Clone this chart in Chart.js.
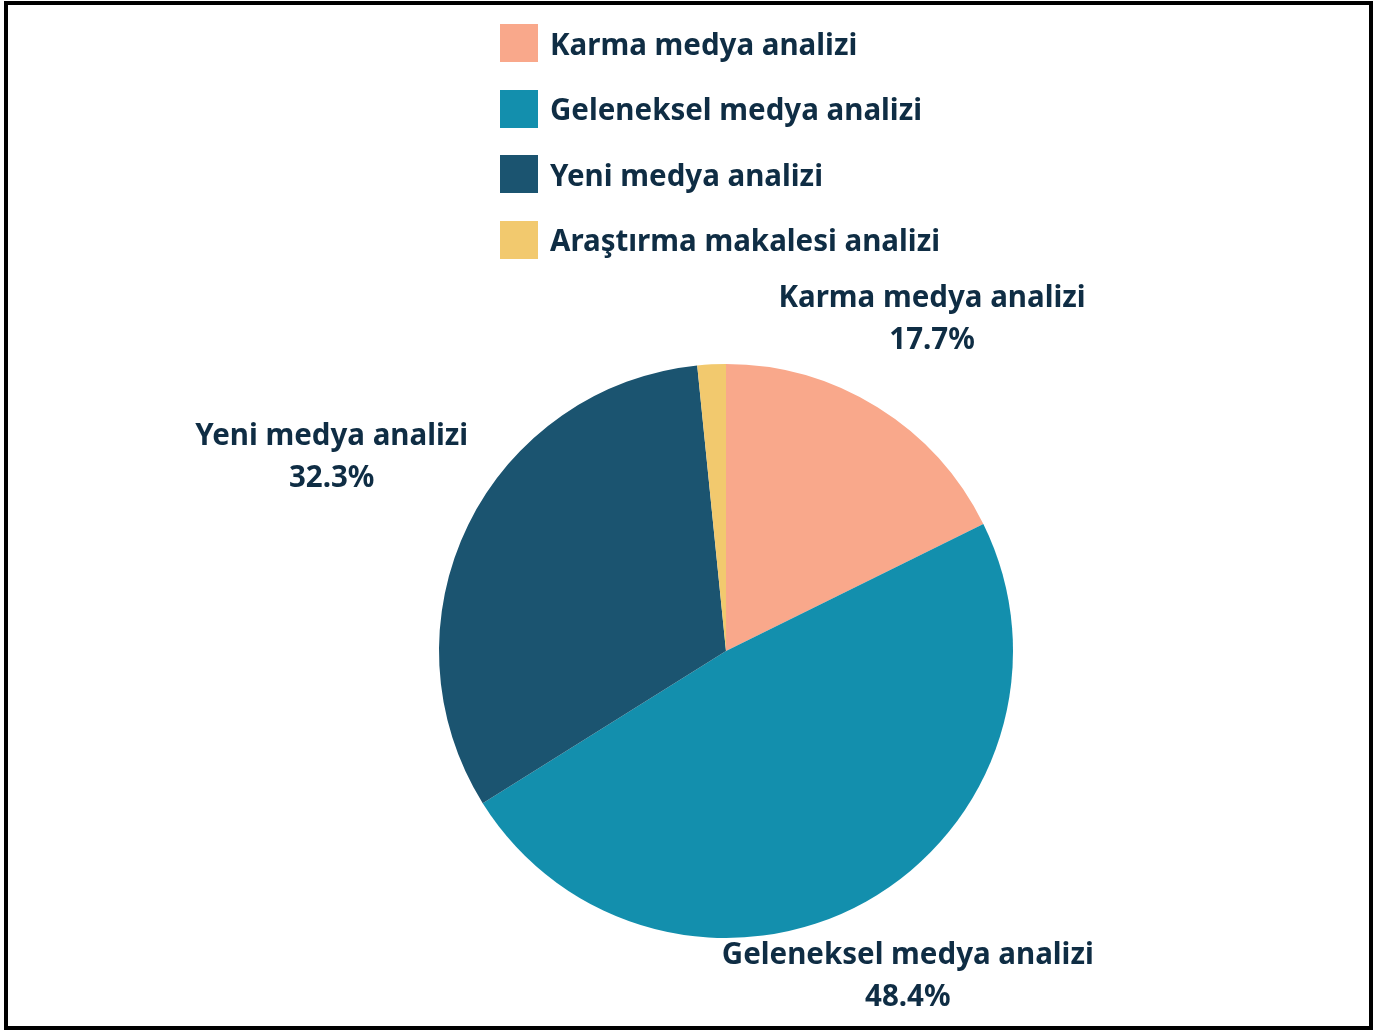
<!DOCTYPE html>
<html>
<head>
<meta charset="utf-8">
<script src="https://cdn.jsdelivr.net/npm/chart.js@4/dist/chart.umd.min.js"></script>
<style>
  html, body { margin: 0; padding: 0; background: #fff; }
  #wrap { position: relative; width: 1385px; height: 1032px; overflow: hidden; }
  #frame {
    position: absolute; left: 4px; top: 1px; width: 1361px; height: 1021px;
    border: 4px solid #000; pointer-events: none;
  }
  #pie { position: absolute; left: 0; top: 0; }
  #legend {
    position: absolute; left: 500px; top: 24px;
    font-family: "Noto Sans", sans-serif; font-weight: bold; font-size: 29.5px; color: #0f2d44;
  }
  .item { display: flex; align-items: center; height: 38px; margin-bottom: 27.5px; }
  .box { width: 38px; height: 38px; margin-right: 12px; }
</style>
</head>
<body>
<div id="wrap">
  <canvas id="pie" width="1385" height="1032"></canvas>
  <div id="legend"></div>
  <div id="frame"></div>
</div>
<script>
const categories = ['Karma medya analizi', 'Geleneksel medya analizi', 'Yeni medya analizi', 'Araştırma makalesi analizi'];
const shares = [17.7, 48.4, 32.3, 1.6];
const colors = ['#F9A88B', '#138FAD', '#1B5470', '#F2C96E'];
const labelled = [true, true, true, false];

// how far out each slice label sits, as a multiple of the radius
const labelDistance = [1.36, 1.30, 1.53, 1.3];

const sliceLabels = {
    id: 'sliceLabels',
    afterDatasetsDraw(chart) {
        const ctx = chart.ctx;
        const total = shares.reduce((a, b) => a + b, 0);
        const arcs = chart.getDatasetMeta(0).data;
        ctx.save();
        ctx.font = 'bold 29.5px "Noto Sans", sans-serif';
        ctx.fillStyle = '#0f2d44';
        ctx.textAlign = 'center';
        ctx.textBaseline = 'middle';
        arcs.forEach((arc, i) => {
            if (!labelled[i]) return;
            const mid = (arc.startAngle + arc.endAngle) / 2;
            const d = arc.outerRadius * labelDistance[i];
            const x = arc.x + Math.cos(mid) * d;
            const y = arc.y + Math.sin(mid) * d;
            const pct = (shares[i] / total * 100).toFixed(1) + '%';
            ctx.fillText(categories[i], x, y - 21);
            ctx.fillText(pct, x, y + 21);
        });
        ctx.restore();
    }
};

const chart = new Chart(document.getElementById('pie'), {
    type: 'pie',
    data: {
        labels: categories,
        datasets: [{
            data: shares,
            backgroundColor: colors,
            borderWidth: 0
        }]
    },
    options: {
        responsive: false,
        animation: false,
        layout: { padding: { top: 364, bottom: 94, left: 439, right: 372 } },
        plugins: {
            legend: { display: false },
            tooltip: { enabled: false }
        }
    },
    plugins: [sliceLabels]
});

// html legend built from the chart's own legend items
const legendEl = document.getElementById('legend');
Chart.overrides.pie.plugins.legend.labels.generateLabels(chart).forEach(item => {
    const row = document.createElement('div');
    row.className = 'item';
    const box = document.createElement('span');
    box.className = 'box';
    box.style.background = item.fillStyle;
    const txt = document.createElement('span');
    txt.textContent = item.text;
    row.appendChild(box);
    row.appendChild(txt);
    legendEl.appendChild(row);
});
</script>
</body>
</html>
